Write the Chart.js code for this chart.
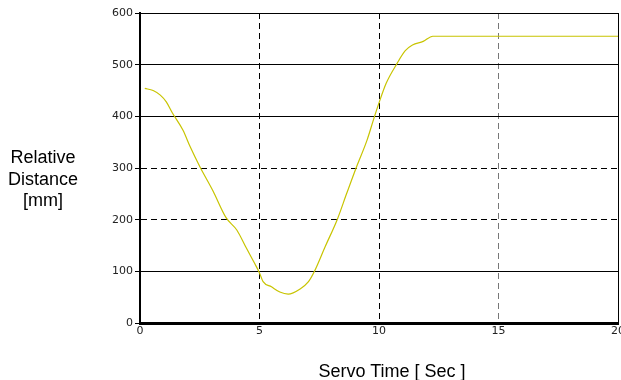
<!DOCTYPE html>
<html>
<head>
<meta charset="utf-8">
<script src="https://cdn.jsdelivr.net/npm/chart.js@4/dist/chart.umd.min.js"></script>
<style>
  html, body { margin: 0; padding: 0; background: #fff; }
  #wrap { position: relative; width: 621px; height: 380px; overflow: hidden; }
  canvas { position: absolute; left: 0; top: 0; }
  .title { position: absolute; font-family: "Liberation Sans", Arial, sans-serif; font-size: 18px; color: #000; text-align: center; white-space: nowrap; }
  #ytitle { left: 0; width: 86px; top: 147px; line-height: 21.6px; }
  #xtitle { left: 292px; width: 200px; top: 360px; line-height: 22px; }
</style>
</head>
<body>
<div id="wrap">
  <canvas id="c" width="621" height="380"></canvas>
  <div class="title" id="ytitle">Relative<br>Distance<br>[mm]</div>
  <div class="title" id="xtitle">Servo Time [ Sec ]</div>
</div>
<script>
// Data
const times     = [0.2, 0.55, 0.85, 1.1, 1.35, 1.8, 2.1, 2.5, 3.05, 3.6, 4.05, 4.45, 4.8, 5.0, 5.15, 5.5, 5.85, 6.2, 6.7, 7.05, 7.3, 7.75, 8.25, 8.65, 9.05, 9.5, 9.8, 10.0, 10.3, 10.75, 11.1, 11.4, 11.85, 12.25, 20];
const distances = [454, 450, 441, 428, 407, 373, 341, 303, 256, 204, 180, 145, 115, 97, 80, 70, 60, 56, 66, 80, 100, 148, 200, 251, 301, 354, 398, 426, 464, 502, 527, 538, 545, 555, 555];
const xTicks = [0, 5, 10, 15, 20];
const yTicks = [0, 100, 200, 300, 400, 500, 600];
const dashedY = [200, 300];

const points = times.map((t, i) => ({ x: t, y: distances[i] }));

new Chart(document.getElementById('c'), {
  type: 'scatter',
  data: {
    datasets: [{
      data: points,
      showLine: true,
      borderColor: '#c8c400',
      borderWidth: 1.2,
      pointRadius: 0,
      cubicInterpolationMode: 'monotone',
      fill: false
    }]
  },
  options: {
    responsive: false,
    animation: false,
    devicePixelRatio: 1,
    layout: { padding: { left: 0, right: 3, top: 13, bottom: 0 } },
    plugins: { legend: { display: false }, tooltip: { enabled: false } },
    scales: {
      x: {
        type: 'linear',
        min: 0, max: 20,
        afterBuildTicks: s => { s.ticks = xTicks.map(v => ({ value: v })); },
        afterFit: s => { s.height = 57; s.paddingLeft = 0; s.paddingRight = 0; },
        ticks: {
          autoSkip: false, maxRotation: 0, padding: 2,
          color: '#222',
          font: { family: 'DejaVu Sans', size: 11 }
        },
        grid: {
          drawTicks: false,
          color: ctx => (ctx.tick && ctx.tick.value === 15) ? '#777' : '#000',
          lineWidth: 1
        },
        border: {
          display: true, color: '#000', width: 3,
          dash: ctx => (ctx.tick && ctx.tick.value > 0 && ctx.tick.value < 20) ? [6, 4] : []
        }
      },
      y: {
        type: 'linear',
        min: 0, max: 600,
        afterBuildTicks: s => { s.ticks = yTicks.map(v => ({ value: v })); },
        afterFit: s => { s.width = 140; },
        ticks: {
          autoSkip: false, padding: 2,
          color: '#222',
          font: { family: 'DejaVu Sans', size: 11 }
        },
        grid: {
          drawTicks: true, tickLength: 5,
          color: '#000', lineWidth: 1
        },
        border: {
          display: true, color: '#000', width: 2,
          dash: ctx => (ctx.tick && dashedY.includes(ctx.tick.value)) ? [6, 4] : []
        }
      }
    }
  }
});
</script>
</body>
</html>
